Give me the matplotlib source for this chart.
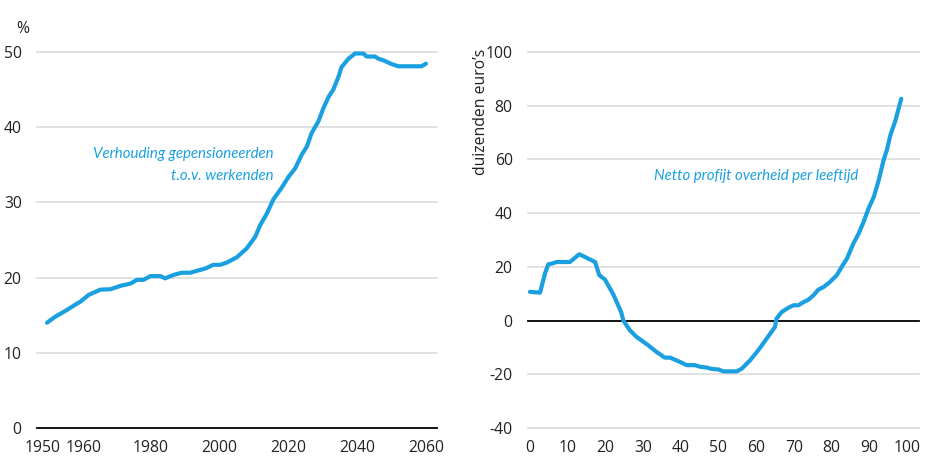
import matplotlib
matplotlib.use("Agg")
import matplotlib.pyplot as plt
from matplotlib.ticker import FuncFormatter
import matplotlib.transforms as mtransforms

plt.rcParams['font.family'] = ['Open Sans', 'DejaVu Sans']

# Left panel: ratio retirees to workers (%)
years = [1950, 1952.4, 1955.8, 1958.2, 1959.7, 1962.1, 1965.5, 1968.4, 1971.3, 1974.2,
         1976.1, 1978, 1980, 1982.9, 1984.3, 1986.7, 1989.1, 1991.6, 1993.5, 1995.9,
         1998.3, 2000.3, 2002.2, 2005.1, 2008, 2010.4, 2011.9, 2013.8, 2015.7, 2018.2,
         2020.1, 2022.0, 2024, 2025.4, 2026.8, 2028.8, 2030.2, 2031.7, 2033.1, 2034.6,
         2035.5, 2037.5, 2039.4, 2041.8, 2042.8, 2045.2, 2046.2, 2047.6, 2050, 2052,
         2054.4, 2058.7, 2060]
ratio = [14.0, 14.8, 15.7, 16.4, 16.8, 17.7, 18.4, 18.45, 18.9, 19.2,
         19.7, 19.7, 20.2, 20.2, 19.9, 20.35, 20.65, 20.65, 20.9, 21.2,
         21.7, 21.7, 22.0, 22.7, 23.9, 25.4, 27.0, 28.5, 30.4, 32.0,
         33.4, 34.5, 36.4, 37.4, 39.2, 40.8, 42.5, 44.0, 45.0, 46.7,
         48.0, 49.1, 49.8, 49.8, 49.4, 49.4, 49.1, 48.9, 48.4, 48.1,
         48.1, 48.1, 48.45]
left_yticks = [0, 10, 20, 30, 40, 50]
left_xticks = [1950, 1960, 1980, 2000, 2020, 2040, 2060]

# Right panel: net government profit per age (thousands of euros)
ages = [0, 2.7, 4.0, 4.9, 5.8, 7.1, 10.6, 13.1, 15.0, 17.3, 18.4, 19.9, 22.1, 24.2,
        24.8, 26.5, 28.3, 31.4, 33.6, 35.8, 37.2, 39.8, 41.6, 43.8, 45.1, 46.9, 48.2,
        50.0, 51.3, 54.9, 56.2, 58.4, 60.6, 62.8, 65.0, 65.4, 66.8, 68.6, 69.9, 71.2,
        72.6, 73.9, 75.2, 76.5, 77.9, 79.6, 81.4, 82.7, 84.1, 85.8, 87.2, 88.5, 89.8,
        91.2, 92.5, 93.8, 94.7, 95.6, 96.9, 98.5]
profit = [10.7, 10.4, 17.5, 21.0, 21.2, 21.8, 21.8, 24.7, 23.4, 21.8, 16.9, 15.3, 9.8, 3.2,
          0.0, -3.6, -6.1, -9.2, -11.7, -13.8, -13.8, -15.4, -16.6, -16.6, -17.2, -17.5, -18.0,
          -18.2, -18.9, -18.9, -17.9, -14.8, -11.0, -6.7, -2.4, 0.7, 3.2, 4.8, 5.7, 5.7,
          6.9, 7.8, 9.4, 11.5, 12.5, 14.4, 16.9, 20.0, 23.1, 28.7, 32.4, 36.7, 41.7,
          46.0, 52.2, 59.7, 63.6, 69.0, 74.3, 82.6]
right_yticks = [-40, -20, 0, 20, 40, 60, 80, 100]
right_xticks = [0, 10, 20, 30, 40, 50, 60, 70, 80, 90, 100]

BLUE = '#1aa0e0'
GRID = '#dcdcdc'
TXT = '#222222'
W, H = 925, 458

fig = plt.figure(figsize=(W / 100, H / 100), dpi=100)

def frame(x0, x1):
    return [x0 / W, 1 - 428 / H, (x1 - x0) / W, (428 - 52) / H]

ax1 = fig.add_axes(frame(37, 437))
ax2 = fig.add_axes(frame(528, 919))

hyphen = FuncFormatter(lambda v, p: f"{int(v)}".replace('\u2212', '-'))

for ax in (ax1, ax2):
    for s in ax.spines.values():
        s.set_visible(False)
    ax.tick_params(length=0, labelsize=11.3, colors=TXT)
    ax.tick_params(axis='y', pad=11)
    ax.tick_params(axis='x', pad=8.5)

# Left
ax1.set_xlim(1947.1, 2063.2)
ax1.set_ylim(0, 50)
for v in left_yticks:
    if v == 0:
        ax1.axhline(v, color='black', lw=1.3, zorder=1, clip_on=False)
    else:
        ax1.axhline(v, color=GRID, lw=1.2, zorder=1, clip_on=False)
ax1.plot(years, ratio, color=BLUE, lw=3.0, solid_capstyle='round', zorder=3, clip_on=False)
ax1.set_yticks(left_yticks)
ax1.set_xticks(left_xticks)
ax1.xaxis.set_major_formatter(hyphen)
ax1.yaxis.set_major_formatter(hyphen)
fig.canvas.draw()
lbls = ax1.get_xticklabels()
lbls[0].set_transform(lbls[0].get_transform() +
                      mtransforms.ScaledTranslation(-4 / 100, 0, fig.dpi_scale_trans))
lbls[1].set_transform(lbls[1].get_transform() +
                      mtransforms.ScaledTranslation(2 / 100, 0, fig.dpi_scale_trans))
ax1.text(-0.035, 1.06, '%', transform=ax1.transAxes, fontsize=11.3, color=TXT,
         ha='center', va='center')
ax1.text(2015.7, 36.4, 'Verhouding gepensioneerden', color=BLUE, fontsize=10.8,
         style='italic', ha='right', va='center', family=['Lato', 'DejaVu Sans'])
ax1.text(2015.7, 33.5, 't.o.v. werkenden', color=BLUE, fontsize=10.8,
         style='italic', ha='right', va='center', family=['Lato', 'DejaVu Sans'])

# Right
ax2.set_xlim(-0.5, 103.2)
ax2.set_ylim(-40, 100)
for v in right_yticks:
    if v == 0:
        ax2.axhline(v, color='black', lw=1.3, zorder=1, clip_on=False)
    else:
        ax2.axhline(v, color=GRID, lw=1.2, zorder=1, clip_on=False)
ax2.plot(ages, profit, color=BLUE, lw=3.0, solid_capstyle='round', zorder=3, clip_on=False)
ax2.set_yticks(right_yticks)
ax2.set_xticks(right_xticks)
ax2.xaxis.set_major_formatter(hyphen)
ax2.yaxis.set_major_formatter(hyphen)
ax2.set_ylabel("duizenden euro’s", fontsize=11.3, color=TXT)
ax2.yaxis.set_label_coords(-0.10, 0.84)
ax2.text(32.9, 54.0, 'Netto profijt overheid per leeftijd', color=BLUE, fontsize=10.8,
         style='italic', ha='left', va='center', family=['Lato', 'DejaVu Sans'])

fig.savefig('out.png', dpi=100)
